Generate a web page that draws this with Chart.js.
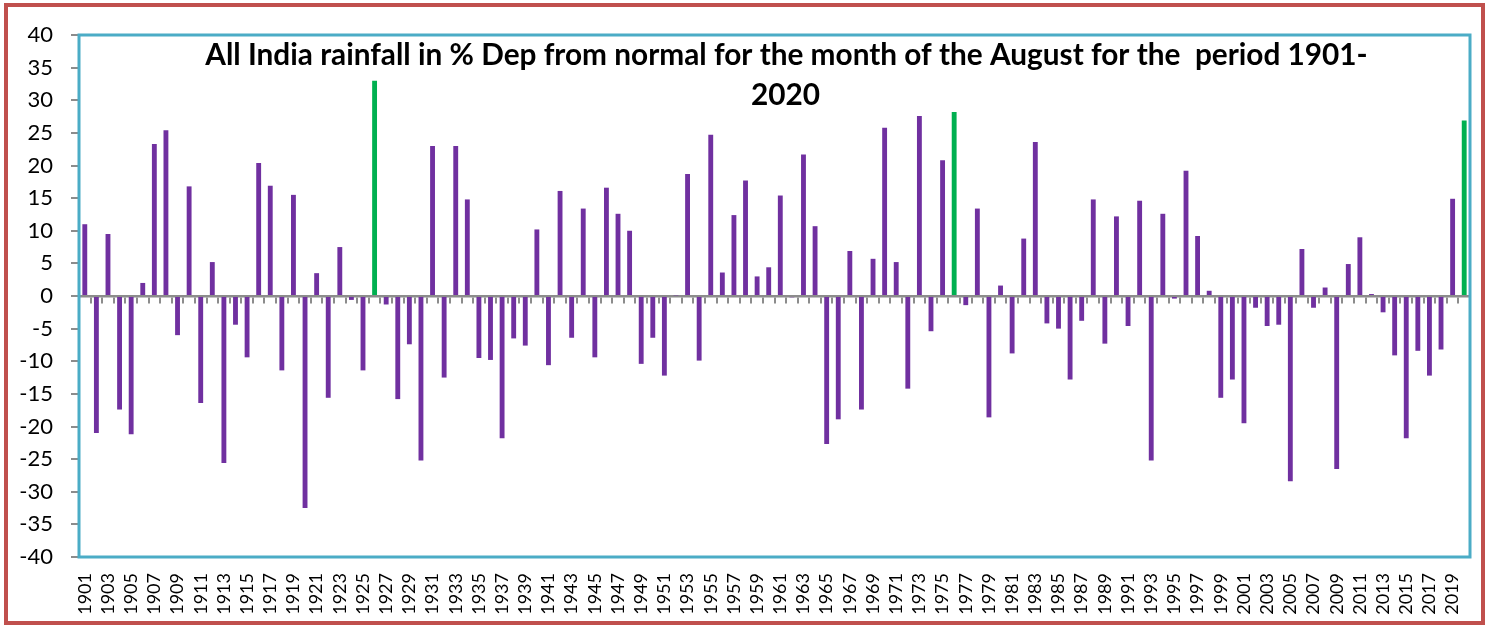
<!DOCTYPE html>
<html>
<head>
<meta charset="utf-8">
<script src="https://cdn.jsdelivr.net/npm/chart.js@4/dist/chart.umd.min.js"></script>
<style>
  html, body { margin: 0; padding: 0; background: #ffffff; }
  #wrap { width: 1491px; height: 631px; }
</style>
</head>
<body>
<div id="wrap"><canvas id="c" width="1491" height="631"></canvas></div>
<script>
// ---- Data ----
const years = [];
for (let y = 1901; y <= 2020; y++) years.push(String(y));

const departure = [
  11.0, -21.0, 9.5, -17.4, -21.2, 2.0, 23.3, 25.4, -6.0, 16.8,
  -16.4, 5.2, -25.6, -4.4, -9.4, 20.4, 16.9, -11.4, 15.5, -32.5,
  3.5, -15.6, 7.5, -0.6, -11.4, 33.0, -1.3, -15.8, -7.4, -25.2,
  23.0, -12.5, 23.0, 14.8, -9.5, -9.8, -21.8, -6.5, -7.6, 10.2,
  -10.6, 16.1, -6.4, 13.4, -9.4, 16.6, 12.6, 10.0, -10.4, -6.4,
  -12.2, 0.1, 18.7, -9.9, 24.7, 3.6, 12.4, 17.7, 3.0, 4.4,
  15.4, -0.2, 21.7, 10.7, -22.7, -18.9, 6.9, -17.4, 5.7, 25.8,
  5.2, -14.2, 27.6, -5.4, 20.8, 28.2, -1.4, 13.4, -18.6, 1.6,
  -8.8, 8.8, 23.6, -4.2, -5.0, -12.8, -3.8, 14.8, -7.3, 12.2,
  -4.6, 14.6, -25.2, 12.6, -0.4, 19.2, 9.2, 0.8, -15.6, -12.8,
  -19.5, -1.8, -4.6, -4.4, -28.4, 7.2, -1.8, 1.3, -26.5, 4.9,
  9.0, 0.3, -2.5, -9.1, -21.8, -8.4, -12.2, -8.2, 14.9, 26.9
];

const highlightYears = ['1926', '1976', '2020'];

const yTicks = [-40, -35, -30, -25, -20, -15, -10, -5, 0, 5, 10, 15, 20, 25, 30, 35, 40];

const titleLines = [
  'All India rainfall in % Dep from normal for the month of the August for the  period 1901-',
  '2020'
];

// ---- Styles ----
const PURPLE = '#7030A0';
const GREEN = '#00B050';
const AXIS_GRAY = '#8c8c8c';
const barColors = years.map(y => highlightYears.includes(y) ? GREEN : PURPLE);

const framePlugin = {
  id: 'frame',
  beforeDraw(chart) {
    const ctx = chart.ctx;
    ctx.save();
    ctx.fillStyle = '#ffffff';
    ctx.fillRect(0, 0, chart.width, chart.height);
    ctx.strokeStyle = '#C0504D';
    ctx.lineWidth = 4;
    ctx.strokeRect(6, 5, 1477, 618);
    ctx.restore();
  },
  afterDatasetsDraw(chart) {
    const ctx = chart.ctx;
    const a = chart.chartArea;
    ctx.save();
    ctx.strokeStyle = '#4BACC6';
    ctx.lineWidth = 3;
    ctx.strokeRect(a.left, a.top, a.right - a.left, a.bottom - a.top);
    // title
    ctx.fillStyle = '#000000';
    ctx.textAlign = 'center';
    ctx.textBaseline = 'alphabetic';
    let size = 24;
    ctx.font = 'bold ' + size + 'px Lato';
    const w = ctx.measureText(titleLines[0]).width;
    size = size * 1163 / w;
    ctx.font = 'bold ' + size.toFixed(2) + 'px Lato';
    const cx = 786.5;
    ctx.fillText(titleLines[0], cx, a.top + 30);
    ctx.fillText(titleLines[1], cx - 1, a.top + 70);
    ctx.restore();
  }
};

new Chart(document.getElementById('c'), {
  type: 'bar',
  data: {
    labels: years,
    datasets: [{
      data: departure,
      backgroundColor: barColors,
      borderWidth: 0,
      barPercentage: 0.42,
      categoryPercentage: 1.0
    }]
  },
  options: {
    responsive: false,
    animation: false,
    events: [],
    layout: { padding: { left: 0, right: 21, top: 35, bottom: 0 } },
    plugins: {
      legend: { display: false },
      tooltip: { enabled: false },
      title: { display: false }
    },
    scales: {
      x: {
        type: 'category',
        position: 'bottom',
        offset: true,
        grid: { display: false, drawTicks: false },
        border: { display: false },
        ticks: {
          autoSkip: false,
          minRotation: 90,
          maxRotation: 90,
          padding: 16,
          color: '#000000',
          font: { family: 'Lato', size: 18 },
          callback: function (val, idx) { return idx % 2 === 0 ? this.getLabelForValue(val) : ''; }
        },
        afterFit(scale) {
          scale.height = 74;
          scale.paddingLeft = 0;
          scale.paddingRight = 0;
        }
      },
      x2: {
        type: 'category',
        position: { y: 0 },
        offset: true,
        grid: {
          offset: true,
          drawOnChartArea: false,
          drawTicks: true,
          tickLength: 6,
          color: AXIS_GRAY,
          lineWidth: 2
        },
        border: { display: true, color: AXIS_GRAY, width: 2.5 },
        ticks: { display: false },
        afterFit(scale) {
          scale.paddingLeft = 0;
          scale.paddingRight = 0;
        }
      },
      y: {
        min: -40,
        max: 40,
        afterBuildTicks(scale) { scale.ticks = yTicks.map(v => ({ value: v })); },
        grid: {
          drawOnChartArea: false,
          drawTicks: true,
          tickLength: 8,
          color: AXIS_GRAY,
          lineWidth: 2
        },
        border: { display: true, color: AXIS_GRAY, width: 2 },
        ticks: {
          padding: 18,
          color: '#000000',
          font: { family: 'Lato', size: 22 }
        },
        afterFit(scale) { scale.width = 79; }
      }
    }
  },
  plugins: [framePlugin]
});
</script>
</body>
</html>
